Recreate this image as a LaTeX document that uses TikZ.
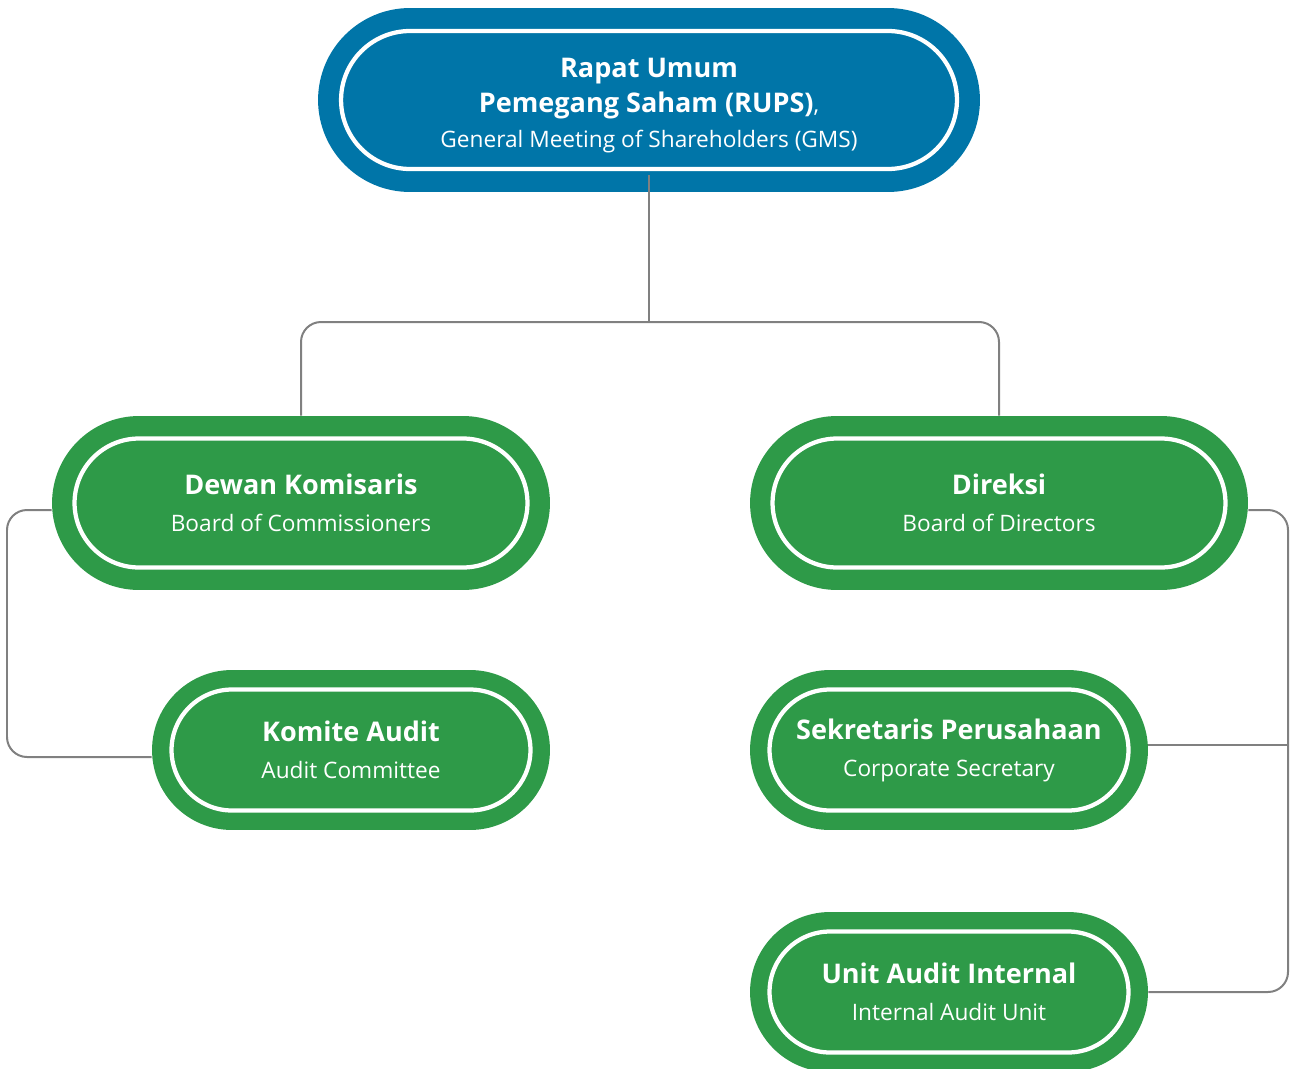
\documentclass[tikz,border=0pt]{standalone}
\usepackage{fontspec}
\setmainfont{Open Sans}
\usetikzlibrary{positioning}

\definecolor{rupsblue}{HTML}{0075A8}
\definecolor{organgreen}{HTML}{2E9A48}
\definecolor{linkgray}{HTML}{808080}

\newcommand{\headtxt}[1]{{\fontsize{15.4}{21}\selectfont\bfseries #1}}

\tikzset{
  pill/.style n args={4}{fill=#1, text=white, align=center, inner sep=0pt,
    minimum width=#2, minimum height=#3, rounded corners=#3/2,
    font=\fontsize{12.9}{21}\selectfont,
    path picture={\draw[white, line width=0.085cm, rounded corners=#3/2-#4]
      ([shift={(#4,#4)}]path picture bounding box.south west) rectangle
      ([shift={(-#4,-#4)}]path picture bounding box.north east);}},
  link/.style={draw=linkgray, line width=0.04cm, rounded corners=0.4cm}
}

\begin{document}
\begin{tikzpicture}[x=0.02cm, y=-0.02cm]
        \useasboundingbox (0,0) rectangle (1290,1068);

        % Top node
        \node[pill={rupsblue}{13.24cm}{3.68cm}{0.46cm}, font=\fontsize{12.9}{19.8}\selectfont] (rups) at (649,100)
          {\headtxt{\rule{0pt}{17pt}Rapat Umum}\\ \headtxt{Pemegang Saham (RUPS)},\\ General Meeting of Shareholders (GMS)};

        % Boards
        \node[pill={organgreen}{9.96cm}{3.48cm}{0.45cm}] (dewan) at (301,503)
          {\headtxt{Dewan Komisaris}\\ Board of Commissioners};
        \node[pill={organgreen}{9.96cm}{3.48cm}{0.45cm}] (direksi) at (999,503)
          {\headtxt{Direksi}\\ Board of Directors};

        % Units below the boards
        \node[pill={organgreen}{7.96cm}{3.2cm}{0.39cm}] (komite) at (351,750)
          {\headtxt{Komite Audit}\\ Audit Committee};
        \node[pill={organgreen}{7.96cm}{3.2cm}{0.39cm}] (sekretaris) at (949,750)
          {\headtxt{Sekretaris Perusahaan}\\ Corporate Secretary};
        \node[pill={organgreen}{7.96cm}{3.2cm}{0.39cm}] (unitaudit) at (949,992)
          {\headtxt{Unit Audit Internal}\\ Internal Audit Unit};

        % Connectors
        \coordinate (split) at (649,322);
        \coordinate (leftbus) at (7,630);
        \coordinate (rightbus) at (1288,870);
        \draw[link] ([yshift=0.34cm]rups.south) -- (split);
        \draw[link] (dewan.north) |- (split) -| (direksi.north);
        \draw[link] ([yshift=-0.14cm]dewan.west) -| (leftbus) |- ([yshift=-0.14cm]komite.west);
        \draw[link] ([yshift=-0.14cm]direksi.east) -| (rightbus) |- (unitaudit.east);
        \draw[link] ([yshift=0.1cm]sekretaris.east) coordinate (secline) -- (secline -| rightbus);
      \end{tikzpicture}
\end{document}
